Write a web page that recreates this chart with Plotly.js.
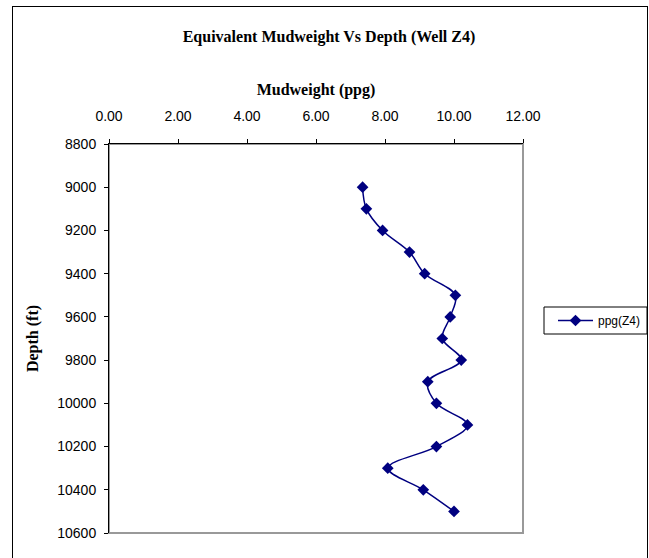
<!DOCTYPE html>
<html>
<head>
<meta charset="utf-8">
<script src="https://cdn.plot.ly/plotly-3.0.1.min.js"></script>
<style>
  html, body { margin: 0; padding: 0; background: #ffffff; }
  #wrap { position: relative; width: 649px; height: 558px; overflow: hidden; }
  #chart { position: absolute; left: 0; top: 0; width: 649px; height: 558px; }
  #frame { position: absolute; left: 12px; top: 6px; width: 634px; height: 570px;
           border: 1px solid #000; pointer-events: none; }
</style>
</head>
<body>
<div id="wrap">
  <div id="chart"></div>
  <div id="frame"></div>
</div>
<script>
// Depth samples (ft) and equivalent mudweight (ppg) for well Z4
const depthFt = [9000, 9100, 9200, 9300, 9400, 9500, 9600, 9700,
                 9800, 9900, 10000, 10100, 10200, 10300, 10400, 10500];
const mudweightPpg = [7.35, 7.46, 7.93, 8.71, 9.15, 10.04, 9.89, 9.66,
                      10.21, 9.24, 9.49, 10.39, 9.49, 8.08, 9.11, 10.00];
const seriesName = 'ppg(Z4)';
const xTicks = [0, 2, 4, 6, 8, 10, 12];
const yTicks = [8800, 9000, 9200, 9400, 9600, 9800, 10000, 10200, 10400, 10600];

const serif = '"Liberation Serif", "Times New Roman", serif';
const sans = '"Liberation Sans", Arial, sans-serif';

// plot-area geometry in pixels (used to place the legend box in paper units)
const W = 649, H = 558;
const plotL = 109, plotR = 523, plotT = 144, plotB = 533;
const pw = plotR - plotL, ph = plotB - plotT;
const px2x = p => (p - plotL) / pw;
const px2y = p => (plotB - p) / ph;

const trace = {
  type: 'scatter',
  mode: 'lines+markers',
  name: seriesName,
  x: mudweightPpg,
  y: depthFt,
  line: { color: '#000080', width: 1.5, shape: 'spline', smoothing: 1 },
  marker: { symbol: 'diamond', size: 9, color: '#000080' }
};

const layout = {
  width: W,
  height: H,
  margin: { l: plotL, r: W - plotR, t: plotT, b: H - plotB, autoexpand: false },
  paper_bgcolor: '#ffffff',
  plot_bgcolor: '#ffffff',
  title: {
    text: '<b>Equivalent Mudweight Vs Depth (Well Z4)</b>',
    font: { family: serif, size: 16, color: '#000' },
    x: 329 / W, xanchor: 'center', xref: 'container',
    y: 1 - 36 / H, yanchor: 'middle', yref: 'container'
  },
  xaxis: {
    side: 'top',
    range: [0, 12],
    tickvals: xTicks,
    ticktext: xTicks.map(v => v.toFixed(2)),
    ticks: 'outside', ticklen: 4, tickcolor: '#000',
    ticklabelstandoff: 12,
    showline: true, linecolor: '#000', linewidth: 1,
    showgrid: false, zeroline: false,
    tickfont: { family: sans, size: 14, color: '#000' },
    title: { text: '<b>Mudweight (ppg)</b>', font: { family: serif, size: 16, color: '#000' }, standoff: 8 }
  },
  yaxis: {
    range: [10600, 8800],
    tickvals: yTicks,
    ticktext: yTicks.map(String),
    ticks: 'outside', ticklen: 4, tickcolor: '#000',
    ticklabelstandoff: 5,
    showline: true, linecolor: '#000', linewidth: 1,
    showgrid: false, zeroline: false,
    tickfont: { family: sans, size: 14, color: '#000' },
    title: { text: '<b>Depth (ft)</b>', font: { family: serif, size: 16, color: '#000' }, standoff: 14 }
  },
  shapes: [
    { // plot-area border (gray), axis lines sit on top in black
      type: 'rect', xref: 'paper', yref: 'paper', x0: 0, x1: 1, y0: 0, y1: 1,
      line: { color: '#999999', width: 2 }, layer: 'below'
    },
    { // legend frame
      type: 'rect', xref: 'paper', yref: 'paper',
      x0: px2x(544), x1: px2x(647), y0: px2y(334), y1: px2y(307),
      line: { color: '#000', width: 1 }, fillcolor: 'rgba(0,0,0,0)', layer: 'above'
    }
  ],
  showlegend: true,
  legend: {
    x: px2x(553), xanchor: 'left',
    y: px2y(320.5), yanchor: 'middle',
    itemwidth: 35,
    borderwidth: 0, bgcolor: 'rgba(0,0,0,0)',
    font: { family: sans, size: 12, color: '#000' }
  }
};

Plotly.newPlot('chart', [trace], layout, { displayModeBar: false, staticPlot: true });
</script>
</body>
</html>
